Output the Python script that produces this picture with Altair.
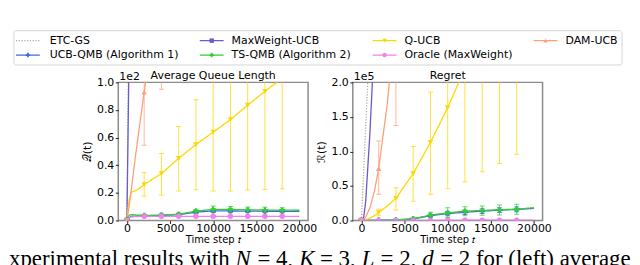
import altair as alt
import pandas as pd

# ---------------- data ----------------
SERIES = ["ETC-GS", "UCB-QMB (Algorithm 1)", "MaxWeight-UCB", "TS-QMB (Algorithm 2)",
          "Q-UCB", "Oracle (MaxWeight)", "DAM-UCB"]
COLORS = ["#a8a8a8", "#4169e1", "#6a5acd", "#32cd32", "#ffd700", "#ee82ee", "#ffa07a"]
SHAPES = ["circle", "cross", "square", "cross", "triangle-down", "circle", "triangle-up"]
DASHES = [[1.2, 1.6], [1, 0], [1, 0], [1, 0], [1, 0], [1, 0], [1, 0]]

T_LINE = [0, 250, 500, 1000, 1500, 2000, 3000, 4000, 6000, 8000, 10000, 12000, 14000, 16000, 18000, 20000]
T_MARK = [0, 2000, 4000, 6000, 8000, 10000, 12000, 14000, 16000, 18000]

# Average queue length (x 1e2)
QUEUE = {
    "ETC-GS": [0, 1.6, 3.0, 5.0, 6.5, 8.0, 9.5, 10.5, 11.5, 12, 12, 12, 12, 12, 12, 12],
    "UCB-QMB (Algorithm 1)": [0.005, 0.02, 0.03, 0.032, 0.033, 0.034, 0.035, 0.036, 0.042, 0.06, 0.07, 0.069, 0.068, 0.067, 0.067, 0.066],
    "MaxWeight-UCB": [0, 1.2, 2.5, 5.0, 7.0, 9.0, 12.0, 15.0, 20.0, 25, 30, 35, 40, 45, 50, 55],
    "TS-QMB (Algorithm 2)": [0.01, 0.038, 0.042, 0.040, 0.038, 0.037, 0.038, 0.040, 0.045, 0.068, 0.080, 0.080, 0.078, 0.076, 0.075, 0.074],
    "Q-UCB": [0.0, 0.15, 0.205, 0.215, 0.235, 0.26, 0.30, 0.34, 0.45, 0.55, 0.64, 0.73, 0.835, 0.935, 1.03, 1.12],
    "Oracle (MaxWeight)": [0.0, 0.02, 0.026, 0.028, 0.029, 0.03, 0.03, 0.03, 0.03, 0.03, 0.03, 0.03, 0.03, 0.03, 0.03, 0.03],
    "DAM-UCB": [0.0, 0.1, 0.22, 0.47, 0.7, 0.93, 1.35, 1.75, 2.6, 3.4, 4.2, 5.0, 5.8, 6.6, 7.4, 8.2],
}
QUEUE_LO = {
    "UCB-QMB (Algorithm 1)": [0.0, 0.028, 0.03, 0.035, 0.05, 0.058, 0.057, 0.057, 0.056, 0.056],
    "MaxWeight-UCB": [0, 7, 12, 17, 21, 25, 29, 33, 37, 41],
    "TS-QMB (Algorithm 2)": [0.005, 0.03, 0.032, 0.035, 0.055, 0.058, 0.06, 0.06, 0.06, 0.06],
    "Q-UCB": [0.0, 0.175, 0.185, 0.213, 0.222, 0.213, 0.213, 0.22, 0.225, 0.23],
    "Oracle (MaxWeight)": [0, 0.025, 0.025, 0.025, 0.025, 0.025, 0.025, 0.025, 0.025, 0.025],
    "DAM-UCB": [0, 0.545, 0.95, 1.5, 2.0, 2.5, 3.0, 3.5, 4.0, 4.5],
}
QUEUE_HI = {
    "UCB-QMB (Algorithm 1)": [0.01, 0.04, 0.042, 0.05, 0.07, 0.082, 0.081, 0.079, 0.078, 0.078],
    "MaxWeight-UCB": [0, 11, 18, 23, 29, 35, 41, 47, 53, 59],
    "TS-QMB (Algorithm 2)": [0.015, 0.045, 0.048, 0.055, 0.08, 0.105, 0.102, 0.097, 0.095, 0.092],
    "Q-UCB": [0.0, 0.348, 0.485, 0.68, 0.875, 1.07, 1.25, 1.45, 1.65, 1.85],
    "Oracle (MaxWeight)": [0, 0.035, 0.035, 0.035, 0.035, 0.035, 0.035, 0.035, 0.035, 0.035],
    "DAM-UCB": [0, 1.3, 2.5, 3.6, 4.7, 5.8, 6.9, 8.0, 9.1, 10.2],
}

# Regret (x 1e5)
REGRET = {
    "ETC-GS": [0, 0.68, 1.37, 2.7, 4.0, 5.4, 8.0, 10.5, 15, 19, 23, 27, 31, 35, 39, 43],
    "UCB-QMB (Algorithm 1)": [0, 0, 0, 0.001, 0.002, 0.003, 0.005, 0.008, 0.022, 0.07, 0.1, 0.12, 0.135, 0.15, 0.16, 0.175],
    "MaxWeight-UCB": [0, 0.03, 0.28, 1.3, 2.6, 4.0, 7.0, 10.0, 16, 22, 28, 34, 40, 46, 52, 58],
    "TS-QMB (Algorithm 2)": [0, 0, 0, 0.001, 0.002, 0.004, 0.006, 0.01, 0.025, 0.078, 0.11, 0.135, 0.145, 0.155, 0.165, 0.185],
    "Q-UCB": [0, 0.005, 0.01, 0.035, 0.07, 0.115, 0.21, 0.32, 0.68, 1.13, 1.635, 2.2, 2.8, 3.4, 4.0, 4.6],
    "Oracle (MaxWeight)": [0, 0, 0, 0, 0, 0.001, 0.001, 0.001, 0.002, 0.002, 0.003, 0.003, 0.004, 0.004, 0.005, 0.005],
    "DAM-UCB": [0, 0.01, 0.05, 0.19, 0.42, 0.75, 1.69, 3.0, 6.5, 10.5, 15, 20, 25, 30, 35, 40],
}
REGRET_LO = {
    "UCB-QMB (Algorithm 1)": [0, 0.0, 0.002, 0.012, 0.05, 0.07, 0.088, 0.1, 0.115, 0.125],
    "MaxWeight-UCB": [0, 3, 8, 13, 18, 23, 28, 33, 38, 43],
    "TS-QMB (Algorithm 2)": [0, 0.001, 0.004, 0.012, 0.04, 0.045, 0.07, 0.075, 0.08, 0.09],
    "Q-UCB": [0, 0.07, 0.153, 0.28, 0.38, 0.465, 0.56, 0.705, 0.825, 0.96],
    "Oracle (MaxWeight)": [0, 0, 0, 0, 0, 0, 0, 0, 0, 0],
    "DAM-UCB": [0, 0.38, 1.375, 3.0, 5.0, 7.5, 10, 13, 16, 19],
}
REGRET_HI = {
    "UCB-QMB (Algorithm 1)": [0, 0.006, 0.014, 0.032, 0.09, 0.13, 0.152, 0.17, 0.185, 0.195],
    "MaxWeight-UCB": [0, 5, 12, 19, 26, 33, 40, 47, 54, 61],
    "TS-QMB (Algorithm 2)": [0, 0.007, 0.016, 0.038, 0.12, 0.185, 0.2, 0.21, 0.225, 0.235],
    "Q-UCB": [0, 0.163, 0.475, 1.07, 1.86, 2.8, 3.8, 4.8, 5.8, 6.8],
    "Oracle (MaxWeight)": [0, 0.002, 0.003, 0.004, 0.005, 0.006, 0.006, 0.007, 0.008, 0.008],
    "DAM-UCB": [0, 1.15, 4.6, 10, 16, 22.5, 30, 37, 44, 51],
}

X_TICKS = [0, 5000, 10000, 15000, 20000]
Q_TICKS = [0.0, 0.2, 0.4, 0.6, 0.8, 1.0]
R_TICKS = [0.0, 0.5, 1.0, 1.5, 2.0]

CAPTION_SEGS = ["xperimental results with", "N", "= 4,", "K", "= 3,", "L", "= 2,", "d", "= 2 for (left) average"]
CAPTION_ITALIC = [False, True, False, True, False, True, False, True, False]

# ---------------- layout (pixels) ----------------
W, H = 191, 139
OX, OY = 118, 80                 # left plot origin on the page
FONT = "DejaVu Sans"
LEG_LINE_X = [15, 200, 374, 536]
LEG_TEXT_X = [49, 232, 406, 568]
LEG_ROW_Y = [38, 52.5]
CAPTION_X = [8, 236, 258, 300, 321, 363, 382, 424, 442]
CAPTION_Y = 265
XTITLE_Y = 242


def line_frame(vals):
    rows = []
    for s in SERIES:
        for t, v in zip(T_LINE, vals[s]):
            rows.append({"series": s, "t": t, "v": v})
    return pd.DataFrame(rows)


def mark_frame(vals, lo, hi):
    rows = []
    for s in SERIES[1:]:
        for i, t in enumerate(T_MARK):
            rows.append({"series": s, "t": t, "v": vals[s][T_LINE.index(t)],
                         "lo": lo[s][i], "hi": hi[s][i]})
    return pd.DataFrame(rows)


def txt(s, x, y, **kw):
    return alt.Chart(pd.DataFrame({"s": [s]})).mark_text(**kw).encode(
        text="s:N", x=alt.value(x), y=alt.value(y))


def panel(vals, lo, hi, ydom, yticks, ytitle, ptitle, mult, extra=()):
    ldf = line_frame(vals)
    mdf = mark_frame(vals, lo, hi)
    xs = alt.Scale(domain=[-1000, 21000], nice=False, zero=False)
    ys = alt.Scale(domain=ydom, nice=False, zero=False)
    xax = alt.Axis(values=X_TICKS, format="d", title=None)
    yax = alt.Axis(values=yticks, format=".1f", title=ytitle, titlePadding=4)
    col = alt.Color("series:N", scale=alt.Scale(domain=SERIES, range=COLORS), legend=None)

    def X(f):
        return alt.X(f + ":Q", scale=xs, axis=xax)

    def Y(f):
        return alt.Y(f + ":Q", scale=ys, axis=yax)

    bars = alt.Chart(mdf).mark_rule(clip=True, strokeWidth=1, opacity=0.75).encode(
        x=X("t"), y=Y("lo"), y2="hi:Q", color=col)
    cap_lo = alt.Chart(mdf).mark_tick(clip=True, orient="horizontal", size=5, thickness=1, opacity=0.75).encode(
        x=X("t"), y=Y("lo"), color=col)
    cap_hi = alt.Chart(mdf).mark_tick(clip=True, orient="horizontal", size=5, thickness=1, opacity=0.75).encode(
        x=X("t"), y=Y("hi"), color=col)
    lines = alt.Chart(ldf).mark_line(clip=True, strokeWidth=1.3).encode(
        x=X("t"), y=Y("v"), color=col,
        strokeDash=alt.StrokeDash("series:N", scale=alt.Scale(domain=SERIES, range=DASHES), legend=None))
    pts = alt.Chart(mdf).mark_point(clip=True, filled=True, size=30, opacity=1).encode(
        x=X("t"), y=Y("v"), color=col,
        shape=alt.Shape("series:N", scale=alt.Scale(domain=SERIES, range=SHAPES), legend=None))
    title = txt(ptitle, W / 2, -3, align="center", baseline="alphabetic", fontSize=11, font=FONT, color="black")
    offs = txt(mult, 1, -2, align="left", baseline="alphabetic", fontSize=11, font=FONT, color="black")
    xtitle = txt("Time step 𝑡", W / 2, XTITLE_Y - OY, align="center", baseline="alphabetic",
                 fontSize=10, font=FONT, color="black")
    return alt.layer(bars, cap_lo, cap_hi, lines, pts, title, offs, xtitle, *extra).properties(width=W, height=H)


# legend + caption layers drawn in the left panel's coordinate system
legend_layers = [
    alt.Chart(pd.DataFrame({"a": [0]})).mark_rect(fill="white", stroke="#d6d6d6", strokeWidth=1, cornerRadius=2).encode(
        x=alt.value(13 - OX), x2=alt.value(625 - OX), y=alt.value(28 - OY), y2=alt.value(62.5 - OY))
]
for i, s in enumerate(SERIES):
    c, r = i // 2, i % 2
    x0 = LEG_LINE_X[c] - OX
    yy = LEG_ROW_Y[r] - OY
    legend_layers.append(
        alt.Chart(pd.DataFrame({"a": [0]})).mark_rule(color=COLORS[i], strokeWidth=1.3, strokeDash=DASHES[i]).encode(
            x=alt.value(x0), x2=alt.value(x0 + 24), y=alt.value(yy)))
    if i > 0:
        legend_layers.append(
            alt.Chart(pd.DataFrame({"a": [0]})).mark_point(filled=True, shape=SHAPES[i], size=20, color=COLORS[i], opacity=1).encode(
                x=alt.value(x0 + 12), y=alt.value(yy)))
    legend_layers.append(txt(s, LEG_TEXT_X[c] - OX, yy, align="left", baseline="middle", fontSize=11, font=FONT, color="black"))

caption_layers = []
for seg, it, cx in zip(CAPTION_SEGS, CAPTION_ITALIC, CAPTION_X):
    kw = dict(align="left", baseline="alphabetic", fontSize=23, font="Liberation Serif", color="black")
    if it:
        kw["fontStyle"] = "italic"
    caption_layers.append(txt(seg, cx - OX, CAPTION_Y - OY, **kw))

left = panel(QUEUE, QUEUE_LO, QUEUE_HI, [0, 1], Q_TICKS, "𝒬(t)", "Average Queue Length", "1e2",
             extra=legend_layers + caption_layers)
right = panel(REGRET, REGRET_LO, REGRET_HI, [0, 2], R_TICKS, "ℛ(t)", "Regret", "1e5")

chart = alt.hconcat(left, right, spacing=45, bounds="flush").properties(
    padding={"left": 0, "top": 20, "right": 0, "bottom": 0}
).configure_view(
    stroke="#8c8c8c", strokeWidth=1.5
).configure_axis(
    domain=False, grid=False, tickColor="#222", tickSize=3, tickWidth=1,
    labelFont=FONT, labelFontSize=11, labelColor="black",
    titleFont=FONT, titleFontSize=11, titleColor="black", titleFontWeight="normal"
).configure_axisX(labelBaseline="alphabetic", labelPadding=8).configure_axisY(labelPadding=1.5)

chart.save("out.html", embed_options={"renderer": "svg", "actions": False})
